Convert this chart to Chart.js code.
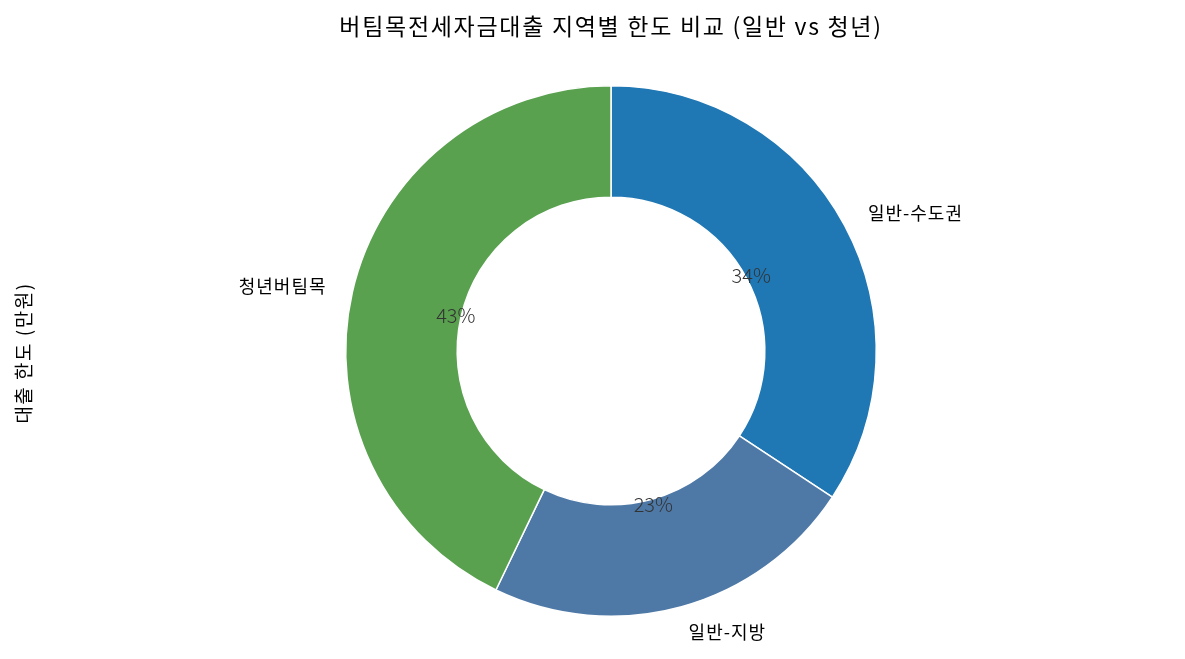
<!DOCTYPE html>
<html>
<head>
<meta charset="utf-8">
<script src="https://cdn.jsdelivr.net/npm/chart.js@4"></script>
<style>
  html, body { margin: 0; padding: 0; background: #fff; }
  #wrap { width: 1185px; height: 659px; position: relative; }
</style>
</head>
<body>
<div id="wrap"><canvas id="donut"></canvas></div>
<script>
// 대출 한도 (만원)
const labels = ["일반-수도권", "일반-지방", "청년버팀목"];
const limits = [12000, 8000, 15000];
const colors = ["#1f77b4", "#4e79a7", "#59a14f"];

const titleText = "버팀목전세자금대출 지역별 한도 비교 (일반 vs 청년)";
const yLabel = "대출 한도 (만원)";
const FONT = "'Noto Sans CJK KR', 'Noto Sans', sans-serif";

// draws title, y label, slice labels and percents like matplotlib's pie
const pieText = {
  id: "pieText",
  afterDraw(chart) {
    const ctx = chart.ctx;
    const meta = chart.getDatasetMeta(0);
    const total = limits.reduce((a, b) => a + b, 0);
    ctx.save();
    ctx.textBaseline = "middle";

    meta.data.forEach((arc, i) => {
      const p = arc.getProps(["x", "y", "startAngle", "endAngle", "outerRadius"], true);
      const mid = (p.startAngle + p.endAngle) / 2;
      const cx = Math.cos(mid), cy = Math.sin(mid);
      const R = p.outerRadius;

      // outer label
      ctx.font = "18px " + FONT;
      ctx.letterSpacing = "1px";
      ctx.fillStyle = "#000";
      ctx.textAlign = cx > 0 ? "left" : "right";
      ctx.fillText(labels[i], p.x + cx * R * 1.1, p.y + cy * R * 1.1);

      // percent
      ctx.font = "300 20px " + FONT;
      ctx.letterSpacing = "0px";
      ctx.fillStyle = "#333";
      ctx.textAlign = "center";
      const pct = Math.round(limits[i] / total * 100) + "%";
      ctx.fillText(pct, p.x + cx * R * 0.6, p.y + cy * R * 0.6);
    });

    ctx.fillStyle = "#000";
    ctx.font = "23px " + FONT;
    ctx.letterSpacing = "1.7px";
    ctx.textAlign = "center";
    ctx.fillText(titleText, 611, 26);

    ctx.translate(24, 353);
    ctx.rotate(-Math.PI / 2);
    ctx.font = "19px " + FONT;
    ctx.letterSpacing = "1.5px";
    ctx.fillText(yLabel, 0, 0);
    ctx.restore();
  }
};

const ctx = document.getElementById("donut").getContext("2d");
new Chart(ctx, {
  type: "doughnut",
  data: {
    labels: labels,
    datasets: [{
      data: limits,
      backgroundColor: colors,
      borderColor: "#fff",
      borderWidth: 1.5,
      hoverOffset: 0
    }]
  },
  options: {
    responsive: true,
    maintainAspectRatio: false,
    animation: false,
    cutout: "58%",
    layout: { padding: { top: 85, bottom: 42, left: 37, right: 0 } },
    plugins: {
      legend: { display: false },
      tooltip: { enabled: false },
      title: { display: false }
    }
  },
  plugins: [pieText]
});
</script>
</body>
</html>
